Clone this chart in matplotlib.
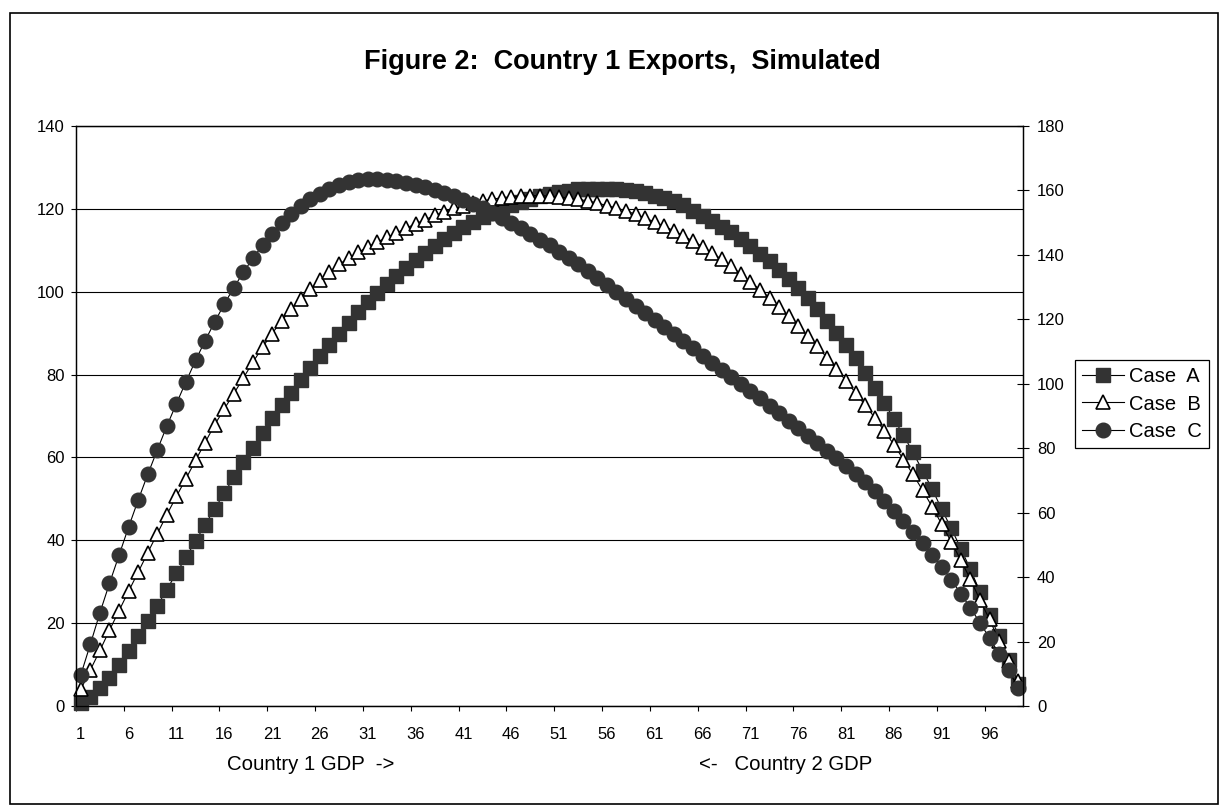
import numpy as np
import matplotlib
matplotlib.use("Agg")
import matplotlib.pyplot as plt
from matplotlib.patches import Rectangle
from matplotlib.ticker import FixedLocator

plt.rcParams['font.family'] = ['Liberation Sans', 'DejaVu Sans']

title = "Figure 2:  Country 1 Exports,  Simulated"
xlabel_left = "Country 1 GDP  ->"
xlabel_right = "<-   Country 2 GDP"
series_names = ["Case  A", "Case  B", "Case  C"]

categories = list(range(1, 100))
tick_labels = [str(v) for v in range(1, 100, 5)]
left_ticks = list(range(0, 141, 20))
right_ticks = list(range(0, 181, 20))

case_a = [0.8, 2.1, 4.3, 6.7, 9.9, 13.2, 16.8, 20.4, 24.2, 28.1,
          32.1, 35.9, 39.8, 43.8, 47.6, 51.4, 55.2, 58.8, 62.3, 65.8,
          69.4, 72.6, 75.6, 78.6, 81.6, 84.4, 87.2, 89.9, 92.4, 95.0,
          97.4, 99.7, 101.8, 103.7, 105.7, 107.6, 109.4, 111.1, 112.7, 114.2,
          115.6, 116.9, 118.1, 119.1, 120.0, 120.9, 121.6, 122.3, 123.0, 123.5,
          124.0, 124.4, 124.7, 124.8, 124.9, 124.9, 124.7, 124.5, 124.2, 123.8,
          123.2, 122.6, 121.8, 120.9, 119.6, 118.3, 117.1, 115.7, 114.4, 112.8,
          111.1, 109.2, 107.3, 105.3, 103.1, 100.9, 98.5, 95.8, 93.0, 90.0,
          87.1, 83.9, 80.4, 76.8, 73.2, 69.3, 65.4, 61.2, 56.8, 52.4,
          47.5, 42.9, 38.0, 33.0, 27.6, 22.0, 16.8, 11.2, 5.2]

case_b = [4.0, 8.7, 13.4, 18.3, 23.0, 27.7, 32.3, 37.0, 41.6, 46.2,
          50.6, 54.9, 59.3, 63.6, 67.9, 71.7, 75.4, 79.2, 83.0, 86.6,
          89.9, 93.0, 95.8, 98.3, 100.6, 102.8, 104.8, 106.6, 108.1, 109.5,
          110.8, 112.0, 113.1, 114.2, 115.3, 116.4, 117.4, 118.4, 119.3, 120.1,
          120.8, 121.4, 121.9, 122.3, 122.7, 122.9, 123.1, 123.2, 123.2, 123.1,
          122.9, 122.6, 122.3, 121.9, 121.4, 120.8, 120.2, 119.5, 118.7, 117.8,
          116.8, 115.8, 114.7, 113.5, 112.2, 110.9, 109.4, 107.8, 106.1, 104.3,
          102.4, 100.5, 98.5, 96.3, 94.1, 91.7, 89.3, 86.8, 84.1, 81.3,
          78.5, 75.6, 72.6, 69.6, 66.4, 63.1, 59.5, 55.9, 52.1, 48.1,
          43.9, 39.6, 35.2, 30.6, 25.6, 20.9, 15.8, 10.9, 6.0]

case_c = [7.5, 14.9, 22.5, 29.6, 36.4, 43.2, 49.7, 55.9, 61.8, 67.6,
          73.0, 78.3, 83.4, 88.2, 92.7, 97.0, 101.0, 104.7, 108.1, 111.2,
          114.0, 116.5, 118.7, 120.6, 122.3, 123.7, 124.9, 125.8, 126.5, 126.9,
          127.1, 127.2, 127.0, 126.7, 126.3, 125.8, 125.2, 124.5, 123.8, 123.0,
          122.1, 121.1, 120.1, 119.0, 117.8, 116.6, 115.3, 114.0, 112.6, 111.2,
          109.7, 108.2, 106.6, 105.0, 103.4, 101.7, 100.0, 98.3, 96.6, 94.9,
          93.2, 91.4, 89.7, 88.0, 86.3, 84.6, 82.9, 81.2, 79.5, 77.8,
          76.1, 74.3, 72.5, 70.7, 68.9, 67.0, 65.2, 63.4, 61.6, 59.8,
          57.9, 56.0, 54.0, 51.8, 49.5, 47.1, 44.6, 42.0, 39.3, 36.5,
          33.6, 30.5, 27.1, 23.7, 20.1, 16.4, 12.6, 8.6, 4.4]

W, H = 1221, 807
fig = plt.figure(figsize=(W / 100, H / 100), dpi=100)
fig.patch.set_facecolor('white')

L, R, T, B = 76, 1023, 126, 706
ax = fig.add_axes([L / W, 1 - B / H, (R - L) / W, (B - T) / H])

x = np.array(categories)
dark = '#333333'
ax.plot(x, case_a, color='black', lw=0.8, marker='s', ms=9.8, mfc=dark, mec=dark,
        label=series_names[0], zorder=3, clip_on=False)
ax.plot(x, case_b, color='black', lw=0.8, marker='^', ms=10.5, mfc='white', mec='black',
        mew=1.2, label=series_names[1], zorder=4, clip_on=False)
ax.plot(x, case_c, color='black', lw=0.8, marker='o', ms=10.5, mfc=dark, mec=dark,
        label=series_names[2], zorder=5, clip_on=False)

ax.set_xlim(0.5, len(categories) + 0.5)
ax.set_ylim(0, 140)
ax.set_yticks(left_ticks)
ax.yaxis.grid(True, color='black', lw=0.8)
ax.set_axisbelow(True)

label_pos = [int(t) for t in tick_labels]
ax.set_xticks(label_pos)
ax.set_xticklabels(tick_labels)
ax.xaxis.set_minor_locator(FixedLocator([0.5 + 5 * k for k in range(20)]))
ax.tick_params(axis='x', which='major', length=0, pad=15, labelsize=12)
ax.tick_params(axis='x', which='minor', length=3.6, width=0.8, direction='out')
ax.tick_params(axis='y', which='major', length=3.6, width=0.8, direction='out',
               pad=4.5, labelsize=12)
for s in ax.spines.values():
    s.set_linewidth(0.9)
    s.set_color('black')

ax2 = ax.twinx()
ax2.set_ylim(0, 180)
ax2.set_yticks(right_ticks)
ax2.tick_params(axis='y', length=9, width=0.8, direction='inout', pad=5.5, labelsize=12)
for s in ax2.spines.values():
    s.set_linewidth(0.9)
    s.set_color('black')

handles, labels = ax.get_legend_handles_labels()
leg = fig.legend(handles, labels, loc='upper left',
                 bbox_to_anchor=(1075 / W, 1 - 360 / H), bbox_transform=fig.transFigure,
                 fontsize=14.5, frameon=True, fancybox=False, framealpha=1,
                 edgecolor='black', handlelength=2.1, handletextpad=0.25,
                 labelspacing=0.42, borderpad=0.35, borderaxespad=0)
leg.get_frame().set_linewidth(0.9)

fig.text(622 / W, 1 - 69 / H, title, ha='center', va='baseline',
         fontsize=19.5, fontweight='bold')
fig.text(227 / W, 1 - 770 / H, xlabel_left, ha='left', va='baseline', fontsize=14.7)
fig.text(699 / W, 1 - 770 / H, xlabel_right, ha='left', va='baseline', fontsize=14.7)

fig.patches.append(Rectangle((10 / W, 1 - 804 / H), (1218 - 10) / W, (804 - 13) / H,
                             transform=fig.transFigure, fill=False, ec='black', lw=1.2))

fig.savefig('out.png', dpi=100)
